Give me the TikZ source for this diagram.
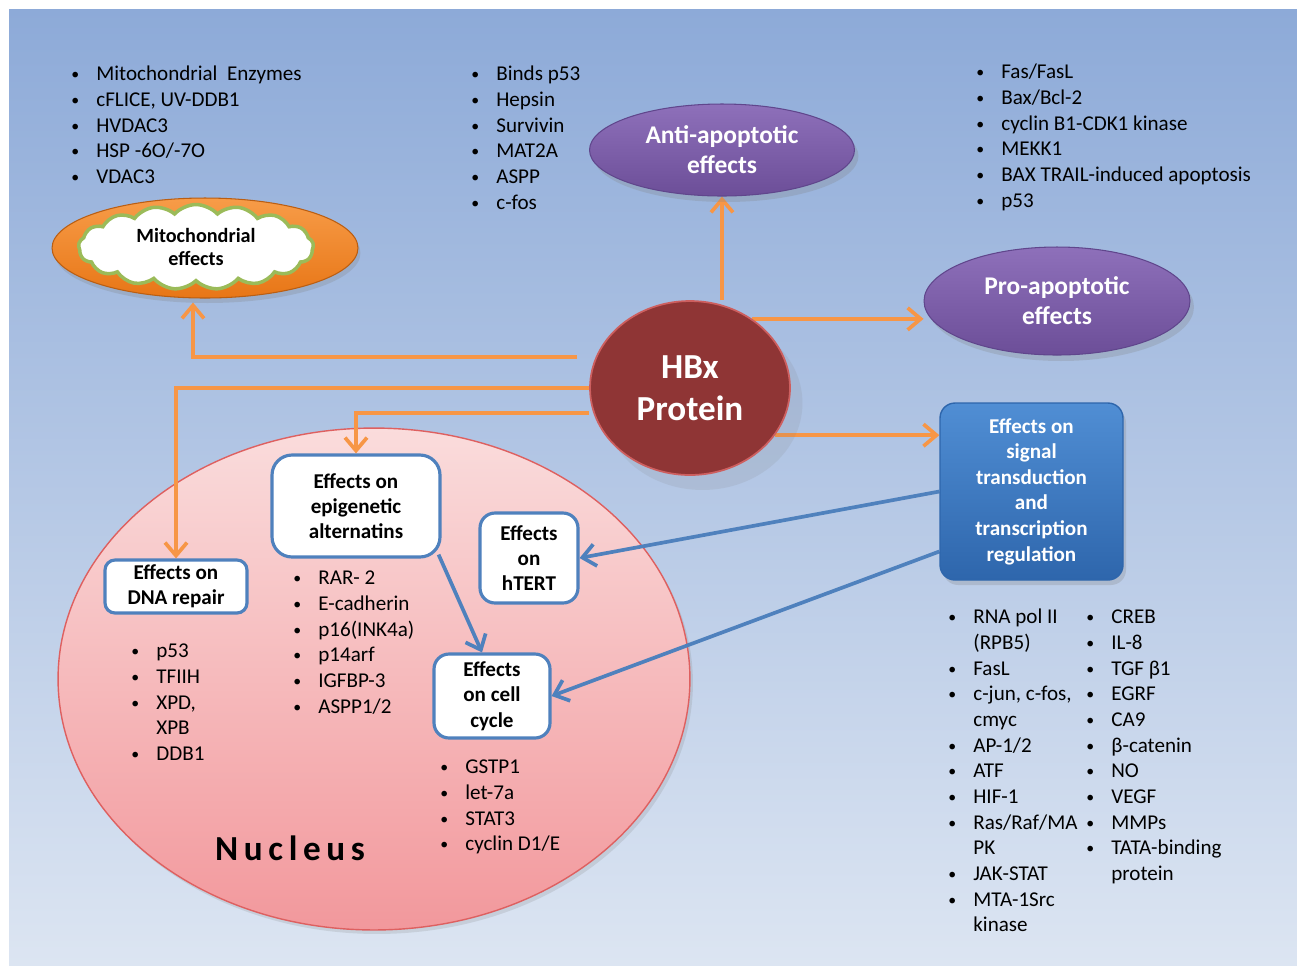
\documentclass[tikz,border=0pt]{standalone}
\usepackage{fontspec}
\setmainfont{Carlito}
\usetikzlibrary{arrows.meta, positioning, shapes.geometric, shapes.symbols, calc, shadows}
\definecolor{bgtop}{RGB}{141,170,216}
\definecolor{bgmid}{RGB}{192,208,232}
\definecolor{bgbot}{RGB}{220,229,242}
\definecolor{orangeline}{RGB}{247,150,70}
\definecolor{bluebox}{RGB}{79,129,189}
\definecolor{sigtop}{RGB}{80,142,212}
\definecolor{sigbot}{RGB}{46,102,172}
\definecolor{purptop}{RGB}{142,112,186}
\definecolor{purpbot}{RGB}{108,78,152}
\definecolor{purpedge}{RGB}{96,70,140}
\definecolor{hbxred}{RGB}{143,53,53}
\definecolor{hbxrim}{RGB}{205,95,95}
\definecolor{mitotop}{RGB}{247,156,72}
\definecolor{mitobot}{RGB}{232,118,22}
\definecolor{cloudgreen}{RGB}{155,187,89}
\definecolor{nucltop}{RGB}{250,220,220}
\definecolor{nuclbot}{RGB}{242,152,156}
\definecolor{nucledge}{RGB}{222,96,96}

\pgfdeclarelayer{bg}
\pgfdeclarelayer{links}
\pgfsetlayers{bg,links,main}

\newcommand{\itm}{\strut\makebox[0.5cm][l]{\raisebox{0.6pt}{\fontsize{9}{9}\selectfont\textbullet}}}
\newcommand{\cnt}{\strut\hspace{0.5cm}}

\begin{document}
\begin{tikzpicture}[x=0.02cm, y=-0.02cm,
    oarrow/.style={draw=orangeline, line width=2.1pt, -{Straight Barb[length=2.6mm, width=4.4mm]}},
    barrow/.style={draw=bluebox, line width=2.1pt, -{Straight Barb[length=2.6mm, width=4.4mm]}},
    listtxt/.style={anchor=north west, align=left, inner sep=0pt, font=\fontsize{12}{14.6}\selectfont},
    effbox/.style={draw=bluebox, line width=1.8pt, fill=white, rounded corners=0.3cm, align=center, inner sep=2pt, font=\fontsize{12}{14.4}\selectfont\bfseries},
    purpell/.style={ellipse, top color=purptop, bottom color=purpbot, draw=purpedge, line width=0.6pt, text=white, align=center, font=\fontsize{14.5}{17}\selectfont\bfseries, drop shadow={shadow xshift=0.08cm, shadow yshift=-0.12cm, opacity=0.25}}
]
    \useasboundingbox (0,0) rectangle (1297,965);

    % Background and nucleus
    \begin{pgfonlayer}{bg}
        \fill[top color=bgtop, middle color=bgmid, bottom color=bgbot] (9,9) rectangle (1297,965);
        \node[ellipse, minimum width=12.64cm, minimum height=10.04cm, top color=nucltop, bottom color=nuclbot, draw=nucledge, line width=0.8pt, drop shadow={shadow xshift=0.06cm, shadow yshift=-0.08cm, opacity=0.2}] (nucleus) at (374,679) {};
    \end{pgfonlayer}
    \node[font=\fontsize{20}{24}\selectfont\bfseries\addfontfeature{LetterSpace=16}] (nuclabel) at (290,848) {Nucleus};

    % Central protein
    \node[ellipse, minimum width=4cm, minimum height=3.48cm, fill=hbxred, draw=hbxrim, line width=1pt, text=white, align=center, font=\fontsize{20}{23.8}\selectfont\bfseries, drop shadow={shadow xshift=0.25cm, shadow yshift=-0.3cm, opacity=0.14}] (hbx) at (690,388) {HBx\\Protein};

    % Apoptotic effects
    \node[purpell, minimum width=5.3cm, minimum height=1.84cm] (anti) at (722,150) {Anti-apoptotic\\effects};
    \node[purpell, minimum width=5.32cm, minimum height=2.16cm] (pro) at (1057,301) {Pro-apoptotic\\effects};

    % Mitochondrial effects
    \node[ellipse, minimum width=6.12cm, minimum height=2cm, top color=mitotop, bottom color=mitobot, draw=mitobot!80!black, line width=0.6pt, drop shadow={shadow xshift=0.05cm, shadow yshift=-0.1cm, opacity=0.25}] (mito) at (205,248) {};
    \node[cloud, cloud puffs=17, cloud puff arc=95, aspect=2.8, minimum width=4.7cm, minimum height=1.7cm, fill=white, draw=cloudgreen, line width=2pt, align=center, font=\fontsize{11.5}{13}\selectfont\bfseries] (cloud) at (196,247) {Mitochondrial\\effects};

    % Signal transduction
    \node[rounded corners=0.3cm, minimum width=3.66cm, minimum height=3.54cm, top color=sigtop, bottom color=sigbot, draw=sigbot, line width=0.8pt, text=white, align=center, font=\fontsize{12}{14.6}\selectfont\bfseries, drop shadow={shadow xshift=0.06cm, shadow yshift=-0.1cm, opacity=0.25}] (sig) at (1031.5,491.5) {Effects on\\signal\\transduction\\and\\transcription\\regulation};

    % Nuclear effects
    \node[effbox, minimum width=2.84cm, minimum height=1.06cm, rounded corners=0.2cm] (dna) at (176,586.5) {Effects on\\DNA repair};
    \node[effbox, minimum width=3.36cm, minimum height=2.04cm, rounded corners=0.4cm] (epi) at (356,506) {Effects on\\epigenetic\\alternatins};
    \node[effbox, minimum width=1.96cm, minimum height=1.8cm] (htert) at (529,558) {Effects\\on\\hTERT};
    \node[effbox, minimum width=2.32cm, minimum height=1.68cm] (cell) at (492,696) {Effects\\on cell\\cycle};

    % Lists
    \node[listtxt] (mitolist) at (71,62.6) {\itm Mitochondrial~ Enzymes\\ \itm cFLICE, UV-DDB1\\ \itm HVDAC3\\ \itm HSP -6O/-7O\\ \itm VDAC3};
    \node[listtxt] (antilist) at (471,62.6) {\itm Binds p53\\ \itm Hepsin\\ \itm Survivin\\ \itm MAT2A\\ \itm ASPP\\ \itm c-fos};
    \node[listtxt] (prolist) at (976,60.6) {\itm Fas/FasL\\ \itm Bax/Bcl-2\\ \itm cyclin B1-CDK1 kinase\\ \itm MEKK1\\ \itm BAX TRAIL-induced apoptosis\\ \itm p53};
    \node[listtxt] (dnalist) at (131,639.6) {\itm p53\\ \itm TFIIH\\ \itm XPD,\\ \cnt XPB\\ \itm DDB1};
    \node[listtxt] (epilist) at (293,566.6) {\itm RAR- 2\\ \itm E-cadherin\\ \itm p16(INK4a)\\ \itm p14arf\\ \itm IGFBP-3\\ \itm ASPP1/2};
    \node[listtxt] (celllist) at (440,755.6) {\itm GSTP1\\ \itm let-7a\\ \itm STAT3\\ \itm cyclin D1/E};
    \node[listtxt] (siglistA) at (948,605.6) {\itm RNA pol II\\ \cnt (RPB5)\\ \itm FasL\\ \itm c-jun, c-fos,\\ \cnt cmyc\\ \itm AP-1/2\\ \itm ATF\\ \itm HIF-1\\ \itm Ras/Raf/MA\\ \cnt PK\\ \itm JAK-STAT\\ \itm MTA-1Src\\ \cnt kinase};
    \node[listtxt] (siglistB) at (1086,605.6) {\itm CREB\\ \itm IL-8\\ \itm TGF β1\\ \itm EGRF\\ \itm CA9\\ \itm β-catenin\\ \itm NO\\ \itm VEGF\\ \itm MMPs\\ \itm TATA-binding\\ \cnt protein};

    % Connectors
    \begin{pgfonlayer}{links}
        \draw[oarrow, shorten >=0.08cm] ([xshift=-0.24cm, yshift=0.62cm]hbx.west) -| ([xshift=-0.24cm]mito.south);
        \draw[oarrow] (hbx.west) -| (dna.north);
        \draw[oarrow] ([yshift=-0.5cm]hbx.west) -| (epi.north);
        \draw[oarrow] (hbx.north -| anti.south) -- (anti.south);
        \draw[oarrow] (hbx.48) -- (hbx.48 -| pro.west);
        \draw[oarrow] (hbx.-29) -- (hbx.-29 -| sig.west);
        \draw[barrow] (sig.west) -- (htert.east);
        \draw[barrow] ([yshift=-1.2cm]sig.west) -- (cell.east);
        \draw[barrow] ([xshift=-0.06cm, yshift=0.08cm]epi.south east) -- ([xshift=-0.2cm]cell.north);
    \end{pgfonlayer}
\end{tikzpicture}
\end{document}
